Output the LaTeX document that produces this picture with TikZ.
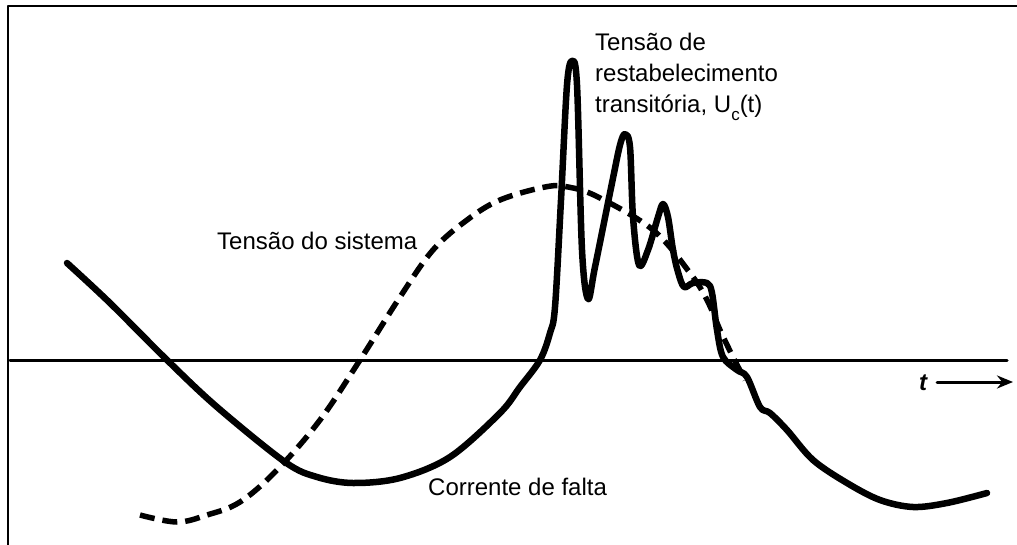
\documentclass[tikz,border=0pt]{standalone}
\usepackage{fontspec}
\setmainfont{Liberation Sans}
\usetikzlibrary{arrows.meta, positioning}

\begin{document}
\begin{tikzpicture}
            [x=1pt, y=-1pt, line join=round, line cap=round,
            frame/.style={line width=2pt},
            axisline/.style={line width=3pt},
            current/.style={line width=6.5pt},
            sysvolt/.style={line width=5.5pt, line cap=butt, dash pattern=on 15pt off 8pt},
            label/.style={inner sep=0pt, anchor=base west, align=left,
                font=\fontsize{24}{31}\selectfont}]

            \useasboundingbox (0,0) rectangle (1017,545);
            \draw[frame] (8,545) -- (8,6) -- (1017,6);

            % eixo do tempo
            \coordinate (o) at (10,360);
            \coordinate (e) at (1007,360);
            \draw[axisline] (o) -- (e);

            \node[label, font=\fontsize{24}{31}\selectfont\bfseries\itshape] (t) at (919,390) {t};
            \coordinate (tend) at (1013,382);
            \draw[axisline, -{Stealth[length=16pt, width=13pt]}] (937,382) -- (tend);

            % tensao do sistema
            \draw[sysvolt] plot[smooth, tension=0.6] coordinates {
                (140,515) (177,522) (207,515) (240,502) (277,470) (320,420)
                (360,360) (400,297) (433,250) (467,220) (500,200) (545,187)
                (568,187) (598,197) (653,230) (690,273) (707,300) (720,330)
                (733,357) (745,380)};

            % corrente de falta e TRV
            \draw[current] plot[smooth, tension=0.55] coordinates {
                (67,263) (110,303) (167,360) (217,407) (285,462) (317,477)
                (353,483) (400,478) (450,457) (500,413) (520,387) (540,360)
                (550,333) (555,307) (561,200) (567,85) (572,61) (577,85)
                (582,250) (588,299) (595,267) (612,183) (620,145) (625,134)
                (630,147) (633,217) (639,265) (648,250) (658,217) (663,204)
                (668,217) (673,250) (678,272) (684,287) (693,283) (707,283)
                (712,293) (717,330) (723,357) (737,370) (747,377) (760,407)
                (770,413) (787,430) (813,460) (847,483) (880,500) (913,507)
                (947,503) (987,493)};

            \node[label] (trv) at (595,113)
                {Tensão de\\restabelecimento\\transitória,
                 U\raisebox{-0.3em}{\fontsize{17}{17}\selectfont c}(t)};
            \node[label] (vsys) at (217,250) {Tensão do sistema};
            \node[label] (ifault) at (428,495) {Corrente de falta};
        \end{tikzpicture}
\end{document}
